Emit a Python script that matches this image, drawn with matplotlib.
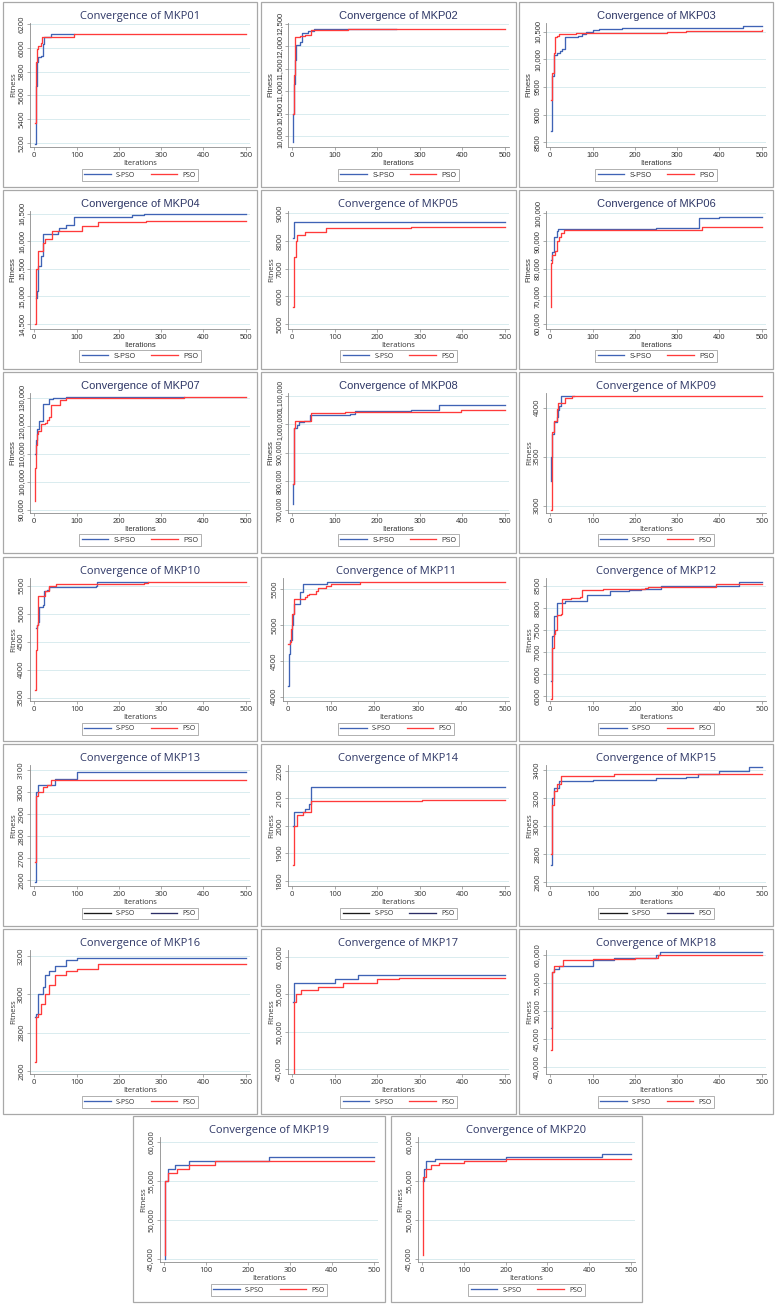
import matplotlib
matplotlib.use("Agg")
import matplotlib.pyplot as plt
from matplotlib.patches import Rectangle
from matplotlib.lines import Line2D

# ---------------- data (breakpoints: iteration, best fitness) ----------------
problems = ["MKP%02d" % i for i in range(1, 21)]
series_names = ["S-PSO", "PSO"]

S01 = [(1, 5190), (3, 5350), (5, 5680), (7, 5880), (10, 5920), (15, 5930), (20, 6030), (24, 6095), (40, 6115), (95, 6115)]
P01 = [(1, 5370), (3, 5700), (5, 5880), (6, 5990), (10, 6015), (15, 6045), (18, 6095), (95, 6115), (500, 6115)]
S02 = [(1, 9870), (2, 10500), (5, 11150), (7, 11700), (8, 12030), (18, 12100), (24, 12290), (38, 12340), (50, 12375), (245, 12380)]
P02 = [(1, 10490), (3, 11350), (7, 12200), (18, 12220), (30, 12240), (45, 12350), (55, 12370), (130, 12385), (500, 12385)]
S03 = [(1, 8700), (3, 9700), (8, 10080), (15, 10120), (22, 10150), (28, 10190), (35, 10400), (65, 10430), (75, 10460),
       (85, 10500), (100, 10530), (115, 10550), (170, 10565), (420, 10575), (455, 10600), (500, 10600)]
P03 = [(1, 9270), (3, 9760), (8, 10120), (11, 10400), (15, 10430), (20, 10455), (35, 10465), (60, 10475), (90, 10485),
       (275, 10490), (320, 10510), (500, 10530)]
S04 = [(3, 14970), (7, 15100), (10, 15550), (17, 15740), (20, 16130), (55, 16180), (58, 16250), (75, 16290), (95, 16450),
       (230, 16470), (260, 16495), (500, 16495)]
P04 = [(1, 14500), (3, 14800), (5, 15500), (10, 15830), (20, 15970), (25, 16050), (42, 16185), (112, 16275), (150, 16345),
       (265, 16360), (325, 16375), (500, 16375)]
S05 = [(1, 8110), (3, 8710), (500, 8710)]
P05 = [(1, 5620), (3, 7000), (5, 7430), (8, 8000), (12, 8230), (30, 8340), (80, 8480), (280, 8495), (500, 8505)]
S06 = [(1, 83200), (3, 86000), (8, 86500), (10, 91400), (15, 93500), (18, 94280), (250, 94630), (290, 94900),
       (352, 98280), (400, 98600), (425, 98850), (500, 98850)]
P06 = [(1, 66300), (2, 82000), (5, 84900), (12, 86500), (15, 90000), (20, 91500), (25, 92800), (32, 94050),
       (355, 94200), (358, 94970), (500, 94970)]
S07 = [(1, 110000), (3, 115000), (6, 119000), (12, 121660), (20, 127680), (35, 129650), (45, 130000), (75, 130300), (355, 130300)]
P07 = [(1, 93100), (2, 105000), (3, 113000), (6, 117000), (10, 118000), (15, 120700), (25, 121000), (30, 122000),
       (35, 123000), (40, 127450), (62, 129300), (75, 129800), (355, 130300), (500, 130300)]
S08 = [(1, 720000), (2, 790000), (4, 986000), (10, 995500), (15, 1006800), (27, 1012000), (42, 1033000), (135, 1036000),
       (148, 1046600), (280, 1048000), (345, 1067000), (500, 1067000)]
P08 = [(1, 790000), (3, 986000), (7, 1012500), (45, 1037500), (125, 1041000), (148, 1044000), (398, 1049000), (500, 1049000)]
S09 = [(1, 3255), (2, 3500), (4, 3735), (10, 3850), (15, 3900), (18, 3980), (20, 4020), (25, 4116), (55, 4116)]
P09 = [(1, 2957), (3, 3500), (5, 3750), (10, 3860), (15, 3990), (18, 4050), (35, 4103), (52, 4116), (500, 4116)]
S10 = [(3, 4747), (7, 4800), (10, 4850), (12, 5120), (20, 5150), (23, 5400), (30, 5420), (35, 5476), (145, 5500),
       (148, 5560), (270, 5560)]
P10 = [(1, 3632), (3, 4350), (6, 4800), (8, 5050), (10, 5310), (25, 5400), (36, 5490), (52, 5530), (260, 5545),
       (270, 5560), (500, 5560)]
S11 = [(1, 4155), (3, 4600), (5, 4800), (10, 5000), (12, 5150), (15, 5303), (28, 5468), (35, 5582), (92, 5605), (165, 5605)]
P11 = [(1, 4734), (5, 4760), (8, 4950), (10, 5160), (15, 5371), (40, 5390), (45, 5420), (50, 5440), (65, 5480),
       (70, 5523), (90, 5550), (100, 5570), (168, 5605), (500, 5605)]
S12 = [(1, 6350), (3, 6900), (5, 7367), (8, 7400), (10, 7820), (16, 8107), (30, 8120), (35, 8160), (88, 8281),
       (142, 8372), (185, 8400), (215, 8420), (262, 8485), (390, 8500), (445, 8576), (500, 8576)]
P12 = [(1, 5930), (3, 6500), (5, 7100), (8, 7400), (12, 7500), (15, 7550), (17, 7843), (25, 7870), (28, 8190),
       (40, 8200), (50, 8230), (70, 8250), (75, 8394), (125, 8430), (225, 8450), (230, 8470), (392, 8538), (500, 8538)]
S13 = [(1, 2590), (3, 3000), (10, 3030), (50, 3060), (100, 3090), (500, 3090)]
P13 = [(1, 2680), (3, 2980), (10, 3000), (20, 3020), (30, 3030), (40, 3055), (500, 3055)]
S14 = [(1, 2000), (5, 2050), (30, 2060), (40, 2080), (45, 2140), (500, 2140)]
P14 = [(1, 1860), (3, 2000), (10, 2040), (25, 2050), (45, 2090), (305, 2095), (500, 2095)]
S15 = [(1, 2720), (3, 3100), (5, 3200), (10, 3270), (20, 3320), (100, 3330), (250, 3340), (320, 3350), (350, 3370),
       (400, 3390), (470, 3420), (500, 3420)]
P15 = [(1, 2800), (3, 3150), (8, 3250), (15, 3300), (25, 3360), (150, 3370), (500, 3370)]
S16 = [(1, 2880), (5, 2900), (10, 3000), (20, 3040), (25, 3100), (35, 3120), (50, 3150), (75, 3180), (100, 3190), (500, 3190)]
P16 = [(1, 2650), (3, 2880), (8, 2900), (15, 2950), (25, 3000), (35, 3050), (50, 3100), (75, 3120), (100, 3130),
       (150, 3160), (500, 3160)]
S17 = [(1, 54000), (3, 56500), (100, 57000), (155, 57500), (500, 57500)]
P17 = [(1, 43500), (3, 54000), (8, 55000), (20, 55500), (60, 56000), (120, 56500), (200, 57000), (250, 57100), (500, 57100)]
S18 = [(1, 47000), (3, 57000), (10, 57500), (20, 58000), (100, 59000), (150, 59500), (250, 60000), (260, 60500), (500, 60500)]
P18 = [(1, 43000), (3, 57000), (10, 58000), (30, 59000), (100, 59200), (200, 59500), (255, 60000), (500, 60000)]
S19 = [(1, 45000), (3, 55000), (10, 56500), (25, 57000), (60, 57500), (250, 58000), (500, 58000)]
P19 = [(1, 45500), (3, 55000), (8, 56000), (30, 56500), (60, 57000), (120, 57500), (500, 57500)]
S20 = [(1, 55000), (5, 56500), (10, 57500), (30, 57800), (200, 58000), (430, 58500), (500, 58500)]
P20 = [(1, 45500), (3, 55500), (10, 56500), (20, 57000), (40, 57300), (100, 57500), (200, 57800), (500, 57800)]

spso_series = [S01, S02, S03, S04, S05, S06, S07, S08, S09, S10, S11, S12, S13, S14, S15, S16, S17, S18, S19, S20]
pso_series = [P01, P02, P03, P04, P05, P06, P07, P08, P09, P10, P11, P12, P13, P14, P15, P16, P17, P18, P19, P20]

# y tick values per problem
yticks = [
    [5200, 5400, 5600, 5800, 6000, 6200],
    [10000, 10500, 11000, 11500, 12000, 12500],
    [8500, 9000, 9500, 10000, 10500],
    [14500, 15000, 15500, 16000, 16500],
    [5000, 6000, 7000, 8000, 9000],
    [60000, 70000, 80000, 90000, 100000],
    [90000, 100000, 110000, 120000, 130000],
    [700000, 800000, 900000, 1000000, 1100000],
    [3000, 3500, 4000],
    [3500, 4000, 4500, 5000, 5500],
    [4000, 4500, 5000, 5500],
    [6000, 6500, 7000, 7500, 8000, 8500],
    [2600, 2700, 2800, 2900, 3000, 3100],
    [1800, 1900, 2000, 2100, 2200],
    [2600, 2800, 3000, 3200, 3400],
    [2600, 2800, 3000, 3200],
    [45000, 50000, 55000, 60000],
    [40000, 45000, 50000, 55000, 60000],
    [45000, 50000, 55000, 60000],
    [45000, 50000, 55000, 60000],
]
ylims = [
    (5165, 6210), (9760, 12515), (8415, 10660), (14410, 16550), (4820, 9090),
    (58200, 100900), (88800, 131700), (688000, 1109000), (2925, 4150), (3440, 5635),
    (3940, 5660), (5895, 8675), (2573, 3122), (1782, 2221), (2572, 3435),
    (2585, 3231), (44350, 60900), (38800, 60860), (44630, 60615), (44630, 60615),
]
xticks = [0, 100, 200, 300, 400, 500]

# ---------------- layout ----------------
W, H = 775, 1305
fig = plt.figure(figsize=(W / 100, H / 100), dpi=100)
fig.patch.set_facecolor("white")

row_bounds = [(2, 187), (190, 369), (372, 553), (557, 741), (744, 926), (929, 1114)]
col_bounds = [(3, 257), (261, 516), (519, 773)]
panel_px = []
for (t, b) in row_bounds:
    for (l, r) in col_bounds:
        panel_px.append((l, t, r, b))
panel_px.append((133, 1116, 385, 1302))
panel_px.append((391, 1116, 642, 1302))

arial_like = {1, 2, 3, 5, 6, 7}

BLUE = "#3f63b5"
RED = "#ff3a3a"
TITLE_C = "#2e3766"
TXT = "#333333"
GRID = "#d9ecef"


def fmt(v):
    return "{:,}".format(v) if v >= 10000 else str(v)


for i in range(20):
    l, t, r, b = panel_px[i]
    fam = ["Liberation Sans", "DejaVu Sans"] if i in arial_like else ["Open Sans", "DejaVu Sans"]
    fig.patches.append(Rectangle((l / W, 1 - b / H), (r - l) / W, (b - t) / H,
                                 transform=fig.transFigure, fill=False,
                                 edgecolor="#a8a8a8", lw=0.9))
    left_off = 27 if i != 10 else 22
    ax_l, ax_r, ax_t, ax_b = l + left_off, r - 7, t + 21, b - 40
    ax = fig.add_axes([ax_l / W, 1 - ax_b / H, (ax_r - ax_l) / W, (ax_b - ax_t) / H])

    sx, sy = zip(*spso_series[i])
    px, py = zip(*pso_series[i])
    ax.step(sx, sy, where="post", color=BLUE, lw=0.95, zorder=3)
    ax.step(px, py, where="post", color=RED, lw=0.95, zorder=3)

    ytick_fs = 5.0 if i == 7 else 5.5
    ax.set_xlim(-10, 510)
    ax.set_ylim(*ylims[i])
    ax.set_xticks(xticks)
    ax.set_xticklabels([str(v) for v in xticks], fontsize=5.5, color=TXT, family=fam)
    ax.set_yticks(yticks[i])
    ax.set_yticklabels([fmt(v) for v in yticks[i]], fontsize=ytick_fs, color=TXT,
                       rotation=90, va="center", family=fam)
    ax.tick_params(axis="both", length=2, width=0.5, color="#888888", pad=1.5)
    ax.grid(axis="y", color=GRID, lw=0.7, zorder=0)
    ax.set_axisbelow(True)
    for s in ["top", "right"]:
        ax.spines[s].set_visible(False)
    for s in ["left", "bottom"]:
        ax.spines[s].set_color("#8c8c8c")
        ax.spines[s].set_linewidth(0.6)

    ax.set_title("Convergence of " + problems[i], fontsize=8, color=TITLE_C, pad=3, family=fam)
    ax.set_xlabel("Iterations", fontsize=5.5, color=TXT, labelpad=0.5, family=fam)
    if i != 10:
        ax.set_ylabel("Fitness", fontsize=5.5, color=TXT, labelpad=1, family=fam)

    if i in (12, 13, 14):
        hc = ["#1a1a1a", "#2b2d66"]
    else:
        hc = [BLUE, RED]
    handles = [Line2D([], [], color=hc[0], lw=0.95), Line2D([], [], color=hc[1], lw=0.95)]
    leg = ax.legend(handles, series_names, loc="upper center", bbox_to_anchor=(0.5, -0.15),
                    ncol=2, frameon=True, fancybox=False, handlelength=3.8,
                    columnspacing=2.2, handletextpad=0.8, borderpad=0.35,
                    prop={"family": fam, "size": 5})
    leg.get_frame().set_edgecolor("#8c8c8c")
    leg.get_frame().set_linewidth(0.6)
    for txt in leg.get_texts():
        txt.set_color(TXT)

fig.savefig("out.png", dpi=100, facecolor="white")
